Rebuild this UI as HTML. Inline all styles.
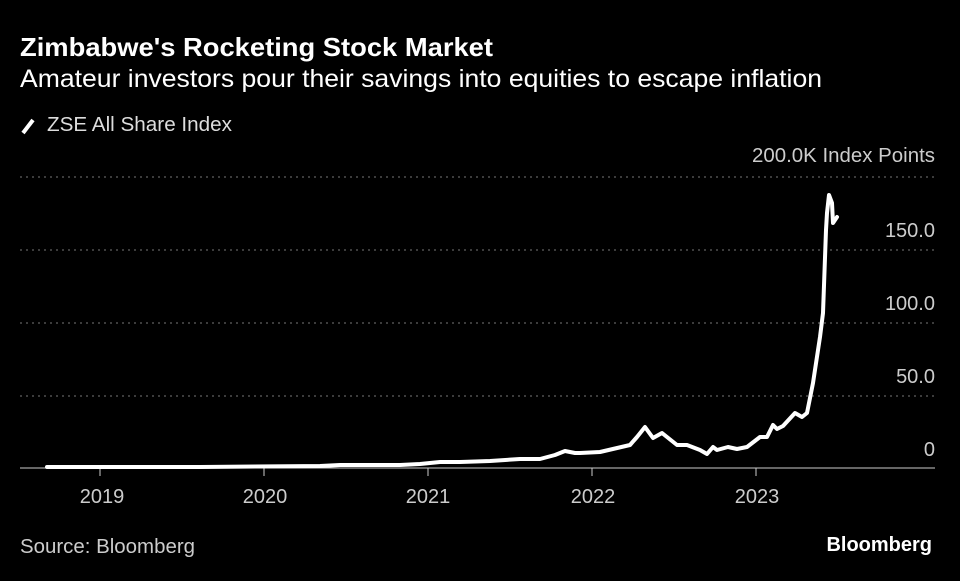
<!DOCTYPE html>
<html><head><meta charset="utf-8"><style>
body{margin:0;background:#000;width:960px;height:576px;overflow:hidden;font-family:"Liberation Sans",sans-serif;}
</style></head><body>
<svg width="960" height="576" xmlns="http://www.w3.org/2000/svg">
<rect width="960" height="576" fill="#000"/>
<text x="20" y="56" fill="#fff" font-size="26" font-weight="bold" textLength="473" lengthAdjust="spacingAndGlyphs">Zimbabwe's Rocketing Stock Market</text>
<text x="20" y="87" fill="#fff" font-size="25" textLength="802" lengthAdjust="spacingAndGlyphs">Amateur investors pour their savings into equities to escape inflation</text>
<line x1="23" y1="133" x2="33" y2="120" stroke="#fff" stroke-width="4"/>
<text x="47" y="131" fill="#ddd" font-size="20" textLength="185" lengthAdjust="spacingAndGlyphs">ZSE All Share Index</text>
<g stroke="#777" stroke-width="1" stroke-dasharray="2,4">
<line x1="20" y1="177" x2="935" y2="177"/>
<line x1="20" y1="250" x2="935" y2="250"/>
<line x1="20" y1="323" x2="935" y2="323"/>
<line x1="20" y1="396" x2="935" y2="396"/>
</g>
<line x1="20" y1="468" x2="935" y2="468" stroke="#ccc" stroke-width="1"/>
<g stroke="#ccc"><line x1="100" y1="468" x2="100" y2="476"/><line x1="264" y1="468" x2="264" y2="476"/><line x1="428" y1="468" x2="428" y2="476"/><line x1="592" y1="468" x2="592" y2="476"/><line x1="756" y1="468" x2="756" y2="476"/></g>
<g fill="#ccc" font-size="20" text-anchor="end">
<text x="935" y="162" textLength="183" lengthAdjust="spacingAndGlyphs">200.0K Index Points</text>
<text x="935" y="237">150.0</text>
<text x="935" y="310">100.0</text>
<text x="935" y="383">50.0</text>
<text x="935" y="456">0</text>
</g>
<g fill="#ccc" font-size="20" text-anchor="middle">
<text x="102" y="503">2019</text><text x="265" y="503">2020</text><text x="428" y="503">2021</text><text x="593" y="503">2022</text><text x="757" y="503">2023</text>
</g>
<polyline fill="none" stroke="#fff" stroke-width="4" stroke-linejoin="round" stroke-linecap="round" points="47,467 200,467 320,466 340,465 400,465 420,464 440,462 460,462 490,461 520,459 540,459 555,455 565,451 575,453 580,453 600,452 630,445 637,437 645,427 653,438 662,433 677,445 687,445 700,450 707,454 713,447 717,450 728,447 737,449 747,447 760,437 767,437 773,425 777,429 783,426 795,413 802,417 807,413 813,383 820,337 823,313 826,230 827,213 829,195 832,203 833,223 837,217"/>
<text x="20" y="553" fill="#ccc" font-size="20" textLength="175" lengthAdjust="spacingAndGlyphs">Source: Bloomberg</text>
<text x="932" y="551" fill="#fff" font-size="20" font-weight="bold" text-anchor="end">Bloomberg</text>
</svg>
</body></html>
